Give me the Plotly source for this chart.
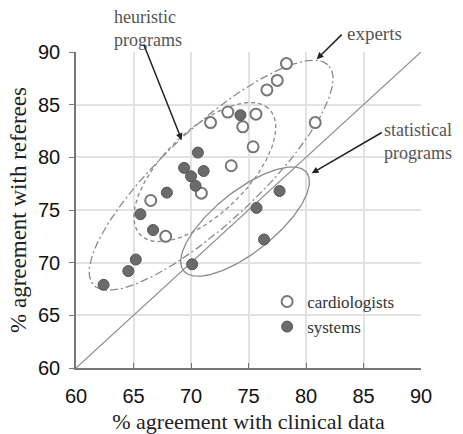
import numpy as np
import plotly.graph_objects as go

# ---- data ----
card_x = [78.3, 77.5, 76.6, 73.2, 75.65, 71.7, 74.5, 80.8, 75.4, 73.5, 70.9, 66.5, 67.8]
card_y = [88.9, 87.3, 86.4, 84.3, 84.1, 83.3, 82.9, 83.3, 81.0, 79.2, 76.6, 75.9, 72.5]

sys_x = [74.3, 70.6, 69.4, 71.1, 70.0, 70.4, 67.9, 65.6, 66.7, 65.2, 64.55, 62.4, 70.1, 76.35, 75.7, 77.7]
sys_y = [84.0, 80.45, 79.0, 78.7, 78.2, 77.3, 76.65, 74.6, 73.1, 70.3, 69.2, 67.9, 69.85, 72.2, 75.2, 76.8]

diag = [60, 90]
tick_vals = [60, 65, 70, 75, 80, 85, 90]

# group outlines: centre x, centre y, semi-major, semi-minor, angle (deg)
experts_ell = [71.75, 78.3, 14.6, 4.3, 46]
heuristic_ell = [71.2, 78.6, 8.2, 3.8, 48]
statistical_ell = [74.7, 73.9, 7.1, 2.8, 42]


def ellipse(p, n=240):
    cx, cy, a, b, ang = p
    t = np.linspace(0, 2 * np.pi, n)
    th = np.radians(ang)
    x = cx + a * np.cos(t) * np.cos(th) - b * np.sin(t) * np.sin(th)
    y = cy + a * np.cos(t) * np.sin(th) + b * np.sin(t) * np.cos(th)
    return x, y


SERIF = "Liberation Serif, Times New Roman, serif"
SANS = "Liberation Sans, Arial, sans-serif"
GREY = "#8a8a8a"

fig = go.Figure()

fig.add_trace(go.Scatter(x=diag, y=diag, mode="lines",
                         line=dict(color=GREY, width=1.2), showlegend=False, hoverinfo="skip"))

for p, dash in [(experts_ell, "8px,3px,2px,3px"), (heuristic_ell, "4px,3px"), (statistical_ell, "solid")]:
    ex, ey = ellipse(p)
    fig.add_trace(go.Scatter(x=ex, y=ey, mode="lines",
                             line=dict(color=GREY, width=1.3, dash=dash),
                             showlegend=False, hoverinfo="skip"))

fig.add_trace(go.Scatter(x=card_x, y=card_y, mode="markers", name="cardiologists",
                         marker=dict(size=11, color="white", line=dict(color="#777777", width=2))))
fig.add_trace(go.Scatter(x=sys_x, y=sys_y, mode="markers", name="systems",
                         marker=dict(size=11, color="#6b6b6b", line=dict(color="#555555", width=1))))

ann_font = dict(family=SERIF, size=18, color="#555555")
fig.add_annotation(x=0.209, y=1.074, xref="paper", yref="paper", text="heuristic<br>programs",
                   showarrow=False, font=ann_font, xanchor="center", yanchor="middle", align="left")
fig.add_annotation(x=0.78, y=1.060, xref="paper", yref="paper", text="experts",
                   showarrow=False, font=dict(family=SERIF, size=19, color="#555555"),
                   xanchor="left", yanchor="middle")
fig.add_annotation(x=0.887, y=0.716, xref="paper", yref="paper", text="statistical<br>programs",
                   showarrow=False, font=ann_font, xanchor="left", yanchor="middle", align="left")

arrow = dict(showarrow=True, arrowhead=2, arrowsize=0.9, arrowwidth=1.5, arrowcolor="#222222",
             xref="x", yref="y", axref="x", ayref="y", text="")
fig.add_annotation(x=69.19, y=81.65, ax=65.85, ay=90.83, **arrow)
fig.add_annotation(x=80.93, y=89.32, ax=83.24, ay=91.79, **arrow)
fig.add_annotation(x=80.5, y=78.49, ax=86.72, ay=82.44, **arrow)

axis_common = dict(range=[60, 90], tickvals=tick_vals, showgrid=True, gridcolor="#e2e2e2", gridwidth=1.5,
                   zeroline=False, showline=True, linecolor="#777777", linewidth=1.5, automargin=False,
                   tickfont=dict(family=SANS, size=20, color="#111111"), ticklen=5, tickcolor="#777777")

fig.update_xaxes(**axis_common, ticks="inside", ticklabelstandoff=9,
                 title=dict(text="% agreement with clinical data", font=dict(family=SERIF, size=22, color="#222222"),
                            standoff=13))
fig.update_yaxes(**axis_common, ticks="outside", ticklabelstandoff=5,
                 title=dict(text="% agreement with referees", font=dict(family=SERIF, size=23, color="#222222"),
                            standoff=5))

fig.update_layout(
    width=463, height=434,
    margin=dict(l=76, r=42, t=52, b=66, autoexpand=False),
    paper_bgcolor="white", plot_bgcolor="white",
    legend=dict(x=0.554, y=0.266, xanchor="left", yanchor="top", bgcolor="rgba(0,0,0,0)",
                font=dict(family=SERIF, size=17, color="#333333"), tracegroupgap=0),
)

fig.write_html("out.html", config={"displayModeBar": False},
               post_script="document.body.style.margin='0px';")
